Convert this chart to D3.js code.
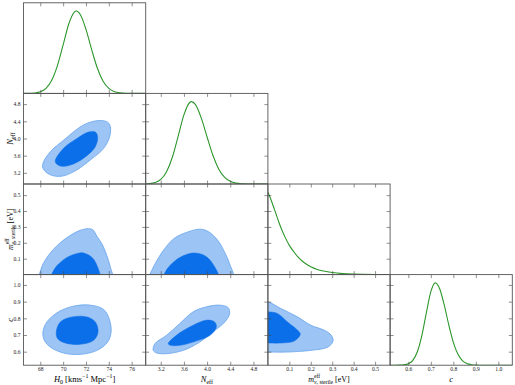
<!DOCTYPE html>
<html><head><meta charset="utf-8">
<script src="https://cdn.jsdelivr.net/npm/d3@7"></script>
<style>body{margin:0;background:#fff}</style>
</head><body>
<svg id="c" width="515" height="385"></svg>
<script>
// ---------------- data ----------------
const ticksH0 = [68, 70, 72, 74, 76];
const ticksNeff = [3.2, 3.6, 4.0, 4.4, 4.8];
const ticksMnu = [0.1, 0.2, 0.3, 0.4, 0.5];
const ticksC = [0.6, 0.7, 0.8, 0.9, 1.0];

const domainH0 = [66.53, 77.23];
const domainNeff = [2.94, 5.05];
const domainMnu = [0, 0.57];
const domainC = [0.519, 1.062];

// 1D marginals [value, relative probability]
const pdfH0 = [[66.5,0],[67.0,0.001],[67.5,0.005],[68.0,0.019],[68.5,0.061],[69.0,0.159],[69.5,0.338],[70.0,0.59],[70.5,0.845],[71.0,0.99],[71.15,1.0],[71.5,0.958],[72.0,0.778],[72.5,0.531],[73.0,0.305],[73.5,0.147],[74.0,0.06],[74.5,0.02],[75.0,0.006],[75.5,0.0014],[76.0,0.0003],[76.5,0],[77.3,0]];
const pdfNeff = [[2.9,0],[3.0,0.004],[3.1,0.017],[3.2,0.055],[3.3,0.149],[3.4,0.325],[3.5,0.579],[3.6,0.84],[3.7,0.99],[3.73,1.0],[3.8,0.963],[3.9,0.80],[4.0,0.571],[4.1,0.349],[4.2,0.183],[4.3,0.082],[4.4,0.032],[4.5,0.0105],[4.6,0.003],[4.7,0.0007],[4.8,0.0001],[4.9,0],[5.1,0]];
const pdfMnu = [[0,1.0],[0.01,0.94],[0.02,0.87],[0.03,0.795],[0.04,0.72],[0.05,0.645],[0.06,0.575],[0.08,0.455],[0.10,0.355],[0.12,0.28],[0.14,0.215],[0.16,0.165],[0.18,0.125],[0.20,0.095],[0.23,0.063],[0.26,0.043],[0.30,0.025],[0.35,0.012],[0.40,0.006],[0.45,0.003],[0.50,0.001],[0.58,0]];
const pdfC = [[0.50,0],[0.54,0.0001],[0.56,0.0007],[0.58,0.004],[0.60,0.017],[0.62,0.059],[0.64,0.163],[0.66,0.36],[0.68,0.636],[0.70,0.893],[0.72,1.0],[0.74,0.923],[0.76,0.726],[0.78,0.487],[0.80,0.278],[0.82,0.135],[0.84,0.056],[0.86,0.02],[0.88,0.006],[0.90,0.0015],[0.92,0.0003],[0.94,0],[1.07,0]];

// 2D credible regions [x, y] (95% outer, 68% inner)
const h0Neff95 = [[68.23,3.42],[68.87,3.69],[70.04,3.96],[71.50,4.27],[72.38,4.38],[73.26,4.42],[73.90,4.38],[74.14,4.27],[74.07,4.04],[73.55,3.77],[72.38,3.50],[71.21,3.27],[70.04,3.13],[69.16,3.13],[68.52,3.21],[68.23,3.31]];
const h0Neff68 = [[69.31,3.46],[70.04,3.77],[71.21,4.00],[72.23,4.15],[72.82,4.15],[73.02,4.04],[72.82,3.81],[71.79,3.54],[70.63,3.38],[69.75,3.36]];
const h0Mnu95 = [[67.85,-0.03],[68.0,0.02],[68.3,0.075],[69.16,0.16],[70.34,0.233],[71.50,0.279],[72.23,0.289],[72.6,0.282],[72.97,0.24],[73.41,0.192],[73.78,0.129],[74.14,0.046],[74.3,-0.03],[71.0,-0.06]];
const h0Mnu68 = [[68.95,-0.03],[69.2,0.03],[69.6,0.066],[70.34,0.108],[71.35,0.135],[71.79,0.136],[72.53,0.108],[72.97,0.056],[73.2,-0.03],[71.0,-0.05]];
const h0C95 = [[68.23,0.718],[68.58,0.778],[69.6,0.839],[70.92,0.873],[72.38,0.879],[73.55,0.853],[74.07,0.789],[74.2,0.718],[73.9,0.658],[72.97,0.608],[71.5,0.584],[70.04,0.592],[68.87,0.628],[68.35,0.668]];
const h0C68 = [[69.40,0.718],[69.75,0.778],[70.78,0.808],[72.09,0.808],[72.82,0.778],[73.06,0.718],[72.67,0.668],[71.5,0.644],[70.19,0.652],[69.51,0.679]];
const neffMnu95 = [[3.0,-0.03],[3.05,0.03],[3.12,0.08],[3.24,0.15],[3.415,0.223],[3.59,0.258],[3.875,0.286],[4.02,0.271],[4.19,0.213],[4.305,0.139],[4.39,0.067],[4.45,-0.03],[3.7,-0.06]];
const neffMnu68 = [[3.25,-0.03],[3.30,0.03],[3.40,0.072],[3.53,0.108],[3.76,0.136],[3.96,0.119],[4.10,0.067],[4.2,-0.03],[3.7,-0.05]];
const neffC95 = [[3.07,0.608],[3.10,0.648],[3.30,0.698],[3.53,0.769],[3.76,0.839],[3.99,0.869],[4.22,0.879],[4.36,0.865],[4.39,0.829],[4.305,0.778],[4.10,0.718],[3.875,0.658],[3.59,0.608],[3.30,0.588],[3.13,0.592]];
const neffC68 = [[3.33,0.648],[3.47,0.698],[3.70,0.748],[3.99,0.789],[4.13,0.778],[4.16,0.748],[4.05,0.698],[3.76,0.658],[3.53,0.638],[3.37,0.638]];
const mnuC95 = [[-0.03,0.90],[0.0,0.899],[0.06,0.859],[0.139,0.808],[0.201,0.758],[0.264,0.728],[0.296,0.698],[0.304,0.664],[0.28,0.628],[0.201,0.608],[0.0915,0.598],[0.0,0.598],[-0.03,0.598],[-0.06,0.75]];
const mnuC68 = [[-0.03,0.84],[0.0,0.839],[0.044,0.829],[0.0915,0.778],[0.139,0.728],[0.151,0.704],[0.123,0.664],[0.06,0.652],[0.0,0.652],[-0.03,0.652],[-0.05,0.75]];

// ---------------- layout ----------------
const X0 = 23.5, CW = 122.2, Y0 = 2.8, CH = 90.6;
const vars = [
  {domain: domainH0, ticks: ticksH0, fmt: d3.format("d")},
  {domain: domainNeff, ticks: ticksNeff, fmt: d3.format(".1f")},
  {domain: domainMnu, ticks: ticksMnu, fmt: d3.format(".1f")},
  {domain: domainC, ticks: ticksC, fmt: d3.format(".1f")}
];
const pdfs = [pdfH0, pdfNeff, pdfMnu, pdfC];
const regions = {
  "1-0": [h0Neff95, h0Neff68],
  "2-0": [h0Mnu95, h0Mnu68],
  "3-0": [h0C95, h0C68],
  "2-1": [neffMnu95, neffMnu68],
  "3-1": [neffC95, neffC68],
  "3-2": [mnuC95, mnuC68]
};
const COL_OUT = "#9cc4f4", COL_OUT_EDGE = "#66a3ee", COL_IN = "#0a6fe8", COL_LINE = "#2c962c";
const FONT = "'Liberation Serif','DejaVu Serif',serif";

const xs = j => d3.scaleLinear().domain(vars[j].domain).range([X0 + j*CW, X0 + (j+1)*CW]);
const ys = i => d3.scaleLinear().domain(vars[i].domain).range([Y0 + (i+1)*CH, Y0 + i*CH]);

const svg = d3.select("#c");
const defs = svg.append("defs");

for (let i = 0; i < 4; i++) {
  for (let j = 0; j <= i; j++) {
    const x = xs(j);
    const px = X0 + j*CW, py = Y0 + i*CH;
    const id = `clip${i}${j}`;
    defs.append("clipPath").attr("id", id).append("rect")
      .attr("x", px).attr("y", py).attr("width", CW).attr("height", CH);
    const g = svg.append("g").attr("clip-path", `url(#${id})`);
    if (i === j) {
      const yd = d3.scaleLinear().domain([0, 1.1]).range([py + CH, py]);
      g.append("path").datum(pdfs[i])
        .attr("d", d3.line().x(d => x(d[0])).y(d => yd(d[1])).curve(d3.curveMonotoneX))
        .attr("fill", "none").attr("stroke", COL_LINE).attr("stroke-width", 1.1);
    } else {
      const y = ys(i);
      const line = d3.line().x(d => x(d[0])).y(d => y(d[1])).curve(d3.curveCatmullRomClosed.alpha(0.5));
      const [outer, inner] = regions[`${i}-${j}`];
      g.append("path").datum(outer).attr("d", line)
        .attr("fill", COL_OUT).attr("stroke", COL_OUT_EDGE).attr("stroke-width", 0.8);
      g.append("path").datum(inner).attr("d", line)
        .attr("fill", COL_IN).attr("stroke", COL_IN).attr("stroke-width", 0.5);
    }
  }
}

// axes / ticks / spines
for (let i = 0; i < 4; i++) {
  for (let j = 0; j <= i; j++) {
    const x = xs(j);
    const px = X0 + j*CW, py = Y0 + i*CH;
    const ax = svg.append("g").attr("class", "axes");
    ax.append("g").attr("transform", `translate(0,${py + CH})`)
      .call(d3.axisBottom(x).tickValues(vars[j].ticks).tickSizeInner(-3.5).tickSizeOuter(0).tickPadding(1.5)
        .tickFormat(i === 3 ? vars[j].fmt : () => ""));
    ax.append("g").attr("transform", `translate(0,${py})`)
      .call(d3.axisTop(x).tickValues(vars[j].ticks).tickSizeInner(-3.5).tickSizeOuter(0).tickFormat(() => ""));
    if (i >= 1) {
      const y = ys(i);
      ax.append("g").attr("transform", `translate(${px},0)`)
        .call(d3.axisLeft(y).tickValues(vars[i].ticks).tickSizeInner(-3.5).tickSizeOuter(0).tickPadding(3)
          .tickFormat(j === 0 ? vars[i].fmt : () => ""));
      ax.append("g").attr("transform", `translate(${px + CW},0)`)
        .call(d3.axisRight(y).tickValues(vars[i].ticks).tickSizeInner(-3.5).tickSizeOuter(0).tickFormat(() => ""));
    }
    ax.selectAll(".domain").remove();
    ax.selectAll(".tick line").attr("stroke", "#444").attr("stroke-width", 0.6);
    ax.selectAll(".tick text").attr("font-family", FONT).attr("font-size", 5.6).attr("fill", "#222");
    ax.append("rect").attr("x", px).attr("y", py).attr("width", CW).attr("height", CH)
      .attr("fill", "none").attr("stroke", "#555").attr("stroke-width", 0.9);
  }
}

// axis labels with sub/superscripts
function richLabel(x, y, rot, parts, size) {
  const t = svg.append("text")
    .attr("transform", `translate(${x},${y}) rotate(${rot})`)
    .attr("text-anchor", "middle").attr("font-family", FONT).attr("font-size", size).attr("fill", "#000");
  let level = 0, prevW = 0;
  parts.forEach(p => {
    const ts = t.append("tspan").text(p.t);
    const target = p.s === "sub" ? size*0.3 : p.s === "sup" ? -size*0.42 : 0;
    ts.attr("dy", target - level).attr("font-size", p.s ? size*0.7 : size);
    if (p.i) ts.attr("font-style", "italic");
    if (p.back) ts.attr("dx", -prevW);
    level = target;
    prevW = ts.node().getComputedTextLength();
  });
}
const LS = 8.5;
const labelH0 = [{t:"H", i:true},{t:"0", s:"sub"},{t:" [kms"},{t:"−1", s:"sup"},{t:" Mpc"},{t:"−1", s:"sup"},{t:"]"}];
const labelNeff = [{t:"N", i:true},{t:"eff", s:"sub"}];
const labelMnu = [{t:"m", i:true},{t:"eff", s:"sup"},{t:"ν", s:"sub", i:true, back:true},{t:", sterile", s:"sub"},{t:" [eV]"}];
const labelC = [{t:"c", i:true}];

const LBL_Y = 381.5;
richLabel(X0 + 0.5*CW, LBL_Y, 0, labelH0, LS);
richLabel(X0 + 1.5*CW, LBL_Y, 0, labelNeff, LS);
richLabel(X0 + 2.5*CW, LBL_Y, 0, labelMnu, 8);
richLabel(X0 + 3.5*CW, LBL_Y, 0, labelC, LS);
richLabel(12.5, Y0 + 1.5*CH, -90, labelNeff, LS);
richLabel(12.5, Y0 + 2.5*CH, -90, labelMnu, 8);
richLabel(12.5, Y0 + 3.5*CH, -90, labelC, LS);
</script>
</body></html>
